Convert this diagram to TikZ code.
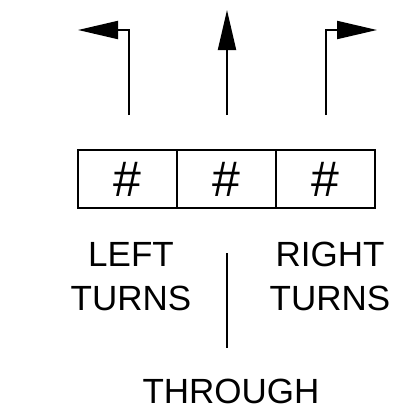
\documentclass[tikz,border=0pt]{standalone}
\usepackage{fontspec}
\setmainfont{Liberation Sans}
\usetikzlibrary{arrows.meta,positioning}

\begin{document}
\begin{tikzpicture}[x=1pt,y=-1pt,line width=2pt,>={Triangle[length=40pt,width=18pt]},
  node distance=0pt,
  lane box/.style={draw,minimum width=99pt,minimum height=58pt,outer sep=0pt,inner sep=0pt,font=\fontsize{50}{50}\selectfont},
  lane text/.style={font=\fontsize{35}{44}\selectfont,align=center,inner sep=0pt}]
  \useasboundingbox (0,0) rectangle (418,415);
  % lane boxes
  \node[lane box] (left box) at (127.5,179) {\#};
  \node[lane box] (through box) [right=of left box] {\#};
  \node[lane box] (right box) [right=of through box] {\#};
  % movement arrows
  \coordinate (left base) at (129,115);
  \coordinate (left bend) at (129,30);
  \coordinate (left tip) at (78,30);
  \coordinate (through base) at (227,115);
  \coordinate (through tip) at (227,10);
  \coordinate (right base) at (326,115);
  \coordinate (right bend) at (326,30);
  \coordinate (right tip) at (377,30);
  \draw[->,line join=miter] (left base) -- (left bend) -- (left tip);
  \draw[->] (through base) -- (through tip);
  \draw[->,line join=miter] (right base) -- (right bend) -- (right tip);
  % labels
  \node[lane text] (left label) at (131,276.5) {LEFT\\TURNS};
  \node[lane text] (right label) at (330,276.5) {RIGHT\\TURNS};
  \node[lane text] (through label) at (231,391) {THROUGH};
  \coordinate (divider top) at (227,253);
  \coordinate (divider bottom) at (227,348);
  \draw (divider top) -- (divider bottom);
\end{tikzpicture}
\end{document}
